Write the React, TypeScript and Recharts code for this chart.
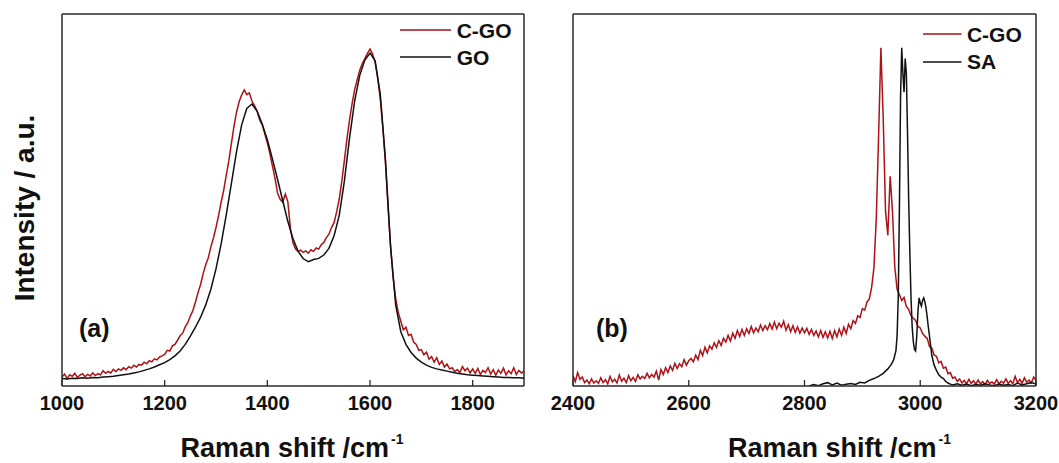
import { LineChart, Line, XAxis, YAxis, Legend } from "recharts"

const FONT = '"Liberation Sans", Arial, Helvetica, sans-serif'
const RED = '#ad1216'
const INK = '#111111'
const FRAME = '#2a2a2a'

// panel (a): D / G band region
const ticksA = [1000, 1200, 1400, 1600, 1800]
const cgoStartA = 1000
const cgoStepA = 5
const cgoA = [
  2.4, 3.2, 2.0, 3.0, 2.6, 3.4, 2.3, 2.9, 3.3, 2.5, 3.1, 2.7, 3.5, 2.8, 3.3, 3.0, 4.1, 3.4, 3.9, 3.5, 4.5,
  3.9, 4.6, 4.2, 4.9, 4.4, 5.2, 4.8, 5.6, 5.1, 5.8, 5.6, 6.4, 6.0, 6.8, 6.5, 7.3, 7.0, 7.8, 8.1, 8.5,
  9.6, 9.4, 10.8, 11.2, 12.3, 13.5, 14.2, 15.9, 17.0, 18.8,
  20.3, 22.6, 25.1, 27.3, 30.2, 32.6, 34.5, 37.4, 39.8, 42.6,
  45.8, 49.4, 52.6, 56.7, 60.5, 65.2, 69.8, 73.6, 76.4, 78.2, 79.6, 78.3, 78.8, 76.6, 75.4, 73.9, 71.6, 70.2, 67.8, 65.4,
  62.5, 59.1, 55.8, 51.8, 50.2, 49.4, 51.6, 49.5, 42.3, 38.4, 36.8, 36.2, 36.5, 35.9, 36.3, 35.7, 36.6, 36.2, 37.1, 36.8,
  38.0, 38.6, 39.9, 40.8, 42.6, 43.9, 46.8, 50.2, 55.0, 60.5, 66.3, 71.4, 75.8, 79.6, 82.3, 84.9, 86.7, 88.0, 89.4, 90.6,
  89.3, 87.0, 82.8, 77.2, 69.5, 60.2, 48.6, 37.8, 29.4, 23.5, 19.8, 17.4, 15.1, 15.8, 13.6, 13.9, 11.8, 11.2, 9.6, 9.8,
  8.4, 9.1, 7.2, 7.9, 6.4, 7.6, 5.8, 6.7, 5.1, 5.9,
  4.6, 4.9, 3.9, 4.4, 3.6, 5.2, 4.1, 4.8, 3.5, 4.6,
  3.4, 4.7, 3.1, 4.2, 3.6, 4.9, 3.2, 4.4, 2.9, 4.3,
  3.4, 4.8, 3.0, 4.1, 3.3, 4.9, 3.1, 4.2, 3.5, 4.0,
]
const goStartA = 1000
const goStepA = 10
const goA = [
  2.0, 1.9, 2.1, 2.0, 2.2, 2.1, 2.3, 2.2, 2.4, 2.5, 2.6,
  2.8, 3.0, 3.2, 3.5, 3.8, 4.2, 4.6, 5.1, 5.7, 6.3,
  7.1, 8.1, 9.4, 11.2, 13.4, 15.8, 18.5, 21.8, 26.0, 31.5,
  38.2, 46.0, 54.5, 63.0, 70.2, 74.6, 75.8, 73.9, 70.4, 66.2,
  61.0, 55.5, 49.8, 44.2, 39.6, 36.2, 34.2, 33.4, 34.0, 34.3,
  35.2, 37.0, 40.4, 45.8, 55.0, 66.5, 76.5, 83.5, 87.6, 89.5,
  87.4, 78.5, 61.0, 37.5, 21.8, 14.6, 11.2, 9.0, 7.5, 6.4,
  5.6, 5.0, 4.6, 4.3, 4.0, 3.7, 3.4, 3.2, 3.0, 2.9,
  2.8, 2.7, 2.6, 2.5, 2.4, 2.3, 2.3, 2.2, 2.2, 2.1,
]

// panel (b): C-H stretching region
const ticksB = [2400, 2600, 2800, 3000, 3200]
const cgoStartB = 2400
const cgoStepB = 4
const cgoB = [
  2.8, 1.2, 3.6, 1.8, 2.4, 0.9, 1.6, 0.6, 1.9, 0.8, 1.4, 0.7, 2.2, 0.9, 1.7, 0.6, 2.6, 1.1, 1.8, 0.8, 3.0, 1.3, 2.1, 0.9, 2.8, 1.4,
  2.3, 1.2, 3.0, 1.9, 2.6, 2.0, 3.4, 2.2, 3.1, 2.4, 4.0, 1.6, 4.4, 3.1, 4.9, 3.6, 5.4, 4.2, 6.1, 4.7, 6.0, 5.2, 7.1, 5.6, 6.8,
  7.4, 6.5, 8.3, 7.1, 9.6, 8.2, 10.4, 8.9, 10.8, 9.9, 11.6, 10.4, 12.2, 10.9, 12.8, 11.8, 13.6, 12.1, 14.2, 12.8, 14.9, 13.3, 15.2, 13.6, 15.4,
  14.1, 16.0, 14.3, 15.6, 14.6, 16.4, 14.9, 16.2, 15.1, 16.8, 15.3, 17.2, 15.4, 16.9, 15.8, 17.4, 15.0, 16.5, 14.6, 16.2, 14.4, 15.9, 14.2, 15.6, 14.3,
  15.5, 13.9, 15.2, 13.6, 14.8, 13.2, 14.9, 13.1, 14.6, 12.9, 14.7, 12.8, 14.9, 13.2, 15.3, 13.6, 15.8, 14.1, 16.6, 15.4, 17.6, 16.8, 18.9, 18.4, 20.8,
  20.4, 22.6, 23.4, 26.5, 31.8, 45.0, 67.0, 90.9, 72.0, 47.0, 40.5, 56.4, 47.0, 32.0, 26.0,
  24.6, 23.0, 23.8, 21.4, 20.6, 18.9, 18.2, 17.6, 16.0, 15.6, 14.1, 13.4, 12.8, 10.6, 10.2, 8.3, 8.0, 6.2, 6.6, 4.8, 5.1, 3.3, 3.6, 2.1, 2.4,
  1.2, 1.9, 0.8, 1.5, 0.6, 1.8, 0.7, 1.4, 0.5, 1.6, 0.6, 1.2, 0.4, 1.5, 0.7, 1.1, 0.5, 1.7, 0.6, 1.3, 0.8, 1.9, 0.7, 1.4, 0.6,
  2.6, 0.9, 1.8, 0.7, 2.2, 1.0, 1.6, 0.8, 2.4, 1.6,
]
const saShiftB = [
  2808, 2816, 2824, 2832, 2840, 2848, 2856, 2864, 2872, 2880, 2888, 2896, 2904, 2912, 2920, 2928, 2936, 2944,
  2950, 2954, 2958, 2960, 2962, 2964, 2966, 2968, 2970, 2972, 2974, 2976, 2978, 2980, 2982, 2984, 2986, 2988,
  2990, 2992, 2994, 2996, 2998, 3000, 3002, 3004, 3006, 3008, 3010, 3012, 3014, 3016, 3020, 3024, 3028, 3032,
  3036, 3040, 3044, 3048, 3052, 3056, 3064, 3072, 3080, 3088, 3096, 3104, 3112, 3120, 3128, 3136, 3144, 3152,
  3160, 3168, 3176, 3184, 3192, 3200,
]
const saB = [
  0.0, 0.4, 0.1, 0.6, 0.9, 0.3, 0.8, 0.2, 0.5, 0.7, 0.4, 1.0, 0.8, 1.5, 2.0, 2.6, 3.4, 4.6,
  5.8, 7.0, 9.5, 13.5, 24.0, 48.0, 78.0, 90.9, 84.0, 79.0, 88.0, 84.0, 68.0, 50.0, 36.0, 24.0, 16.0, 12.0,
  9.8, 9.4, 13.5, 20.0, 23.7, 22.3, 21.5, 23.0, 23.7, 22.6, 21.0, 18.5, 15.8, 13.4, 8.2, 5.6, 4.2, 3.0,
  2.4, 2.0, 1.2, 0.8, 0.5, 0.3, 0.6, 0.2, 0.5, 0.1, 0.4, 0.2, 0.6, 0.3, 0.1, 0.5, 0.2, 0.4,
  0.1, 0.8, 0.3, 0.6, 0.9, 0.5,
]

const onGrid = (start: number, step: number, values: number[]) =>
  values.map((v, i) => ({ shift: start + i * step, v }))

const cgoDataA = onGrid(cgoStartA, cgoStepA, cgoA)
const goDataA = onGrid(goStartA, goStepA, goA)
const cgoDataB = onGrid(cgoStartB, cgoStepB, cgoB)
const saDataB = saShiftB.map((s, i) => ({ shift: s, v: saB[i] }))

function InTick(props: any) {
  const { x, y, payload } = props
  return (
    <g>
      <line x1={x} x2={x} y1={y} y2={y - 6} stroke={FRAME} strokeWidth={1.3} />
      <text x={x} y={y + 23.5} textAnchor="middle" fontFamily={FONT} fontWeight="bold" fontSize={20} fill={INK}>
        {payload.value}
      </text>
    </g>
  )
}

const xTitle = (dx: number) => (props: any) => {
  const vb = props.viewBox
  return (
    <text x={vb.x + vb.width / 2 + dx} y={457} textAnchor="middle" fontFamily={FONT} fontWeight="bold" fontSize={27} fill={INK}>
      <tspan>Raman shift /cm</tspan>
      <tspan dx={2} dy={-13} fontSize={14}>-1</tspan>
    </text>
  )
}

const yTitle = (props: any) => {
  const vb = props.viewBox
  const cy = vb.y + vb.height / 2 + 8
  return (
    <text x={34} y={cy} transform={`rotate(-90, 34, ${cy})`} textAnchor="middle" fontFamily={FONT} fontWeight="bold" fontSize={28} fill={INK}>
      Intensity / a.u.
    </text>
  )
}

const legendBox = (lineLen: number, gap: number) => (props: any) => (
  <div style={{ fontFamily: FONT, fontWeight: 'bold', fontSize: 21, color: INK }}>
    {props.payload.map((p: any) => (
      <div key={p.value} style={{ display: 'flex', alignItems: 'center', height: 27.3, lineHeight: '27px' }}>
        <svg width={lineLen} height={4} style={{ display: 'block' }}>
          <line x1={0} x2={lineLen} y1={2} y2={2} stroke={p.color} strokeWidth={1.7} />
        </svg>
        <span style={{ marginLeft: gap }}>{p.value}</span>
      </div>
    ))}
  </div>
)

const frameLine = { stroke: FRAME, strokeWidth: 1.5 }

function Panel({ width, margin, domain, ticks, series, tag, tagX, titleDx, legendPos, legendLine, showYTitle }: any) {
  return (
    <LineChart width={width} height={463} margin={margin}>
      <XAxis
        type="number"
        dataKey="shift"
        domain={domain}
        ticks={ticks}
        allowDataOverflow
        height={30}
        tickSize={0}
        tickMargin={0}
        tickLine={false}
        tick={<InTick />}
        axisLine={frameLine}
        label={{ content: xTitle(titleDx) }}
      />
      <XAxis xAxisId="top" orientation="top" type="number" domain={domain} height={1} tick={false} tickLine={false} axisLine={frameLine} />
      <YAxis
        type="number"
        domain={[0, 100]}
        allowDataOverflow
        width={1}
        tick={false}
        tickLine={false}
        axisLine={frameLine}
        label={showYTitle ? { content: yTitle } : undefined}
      />
      <YAxis yAxisId="right" orientation="right" type="number" domain={[0, 100]} width={1} tick={false} tickLine={false} axisLine={frameLine} />
      {series.map((s: any) => (
        <Line
          key={s.name}
          data={s.data}
          dataKey="v"
          name={s.name}
          type="linear"
          stroke={s.color}
          strokeWidth={1.5}
          dot={false}
          activeDot={false}
          isAnimationActive={false}
        />
      ))}
      <Legend
        layout="horizontal"
        verticalAlign="middle"
        align="center"
        content={legendBox(legendLine[0], legendLine[1])}
        wrapperStyle={{ left: legendPos[0], top: legendPos[1], width: 'auto', height: 'auto' }}
      />
      <text x={tagX} y={336.5} fontFamily={FONT} fontWeight="bold" fontSize={25} fill={INK}>
        {tag}
      </text>
    </LineChart>
  )
}

export default function App() {
  return (
    <div style={{ position: 'absolute', left: 0, top: 0, width: 1059, height: 463, background: '#fff', overflow: 'hidden' }}>
      <div style={{ position: 'absolute', left: 0, top: 0 }}>
        <Panel
          width={530}
          margin={{ top: 13, right: 5, bottom: 47, left: 61 }}
          domain={[1000, 1900]}
          ticks={ticksA}
          series={[
            { name: 'C-GO', data: cgoDataA, color: RED },
            { name: 'GO', data: goDataA, color: INK },
          ]}
          tag="(a)"
          tagX={79}
          titleDx={-1}
          legendPos={[400, 16.4]}
          legendLine={[51, 5.7]}
          showYTitle
        />
      </div>
      <div style={{ position: 'absolute', left: 530, top: 0 }}>
        <Panel
          width={529}
          margin={{ top: 13, right: 22, bottom: 47, left: 42 }}
          domain={[2400, 3200]}
          ticks={ticksB}
          series={[
            { name: 'C-GO', data: cgoDataB, color: RED },
            { name: 'SA', data: saDataB, color: INK },
          ]}
          tag="(b)"
          tagX={66}
          titleDx={35}
          legendPos={[393, 20.6]}
          legendLine={[38.5, 5.4]}
          showYTitle={false}
        />
      </div>
    </div>
  )
}
